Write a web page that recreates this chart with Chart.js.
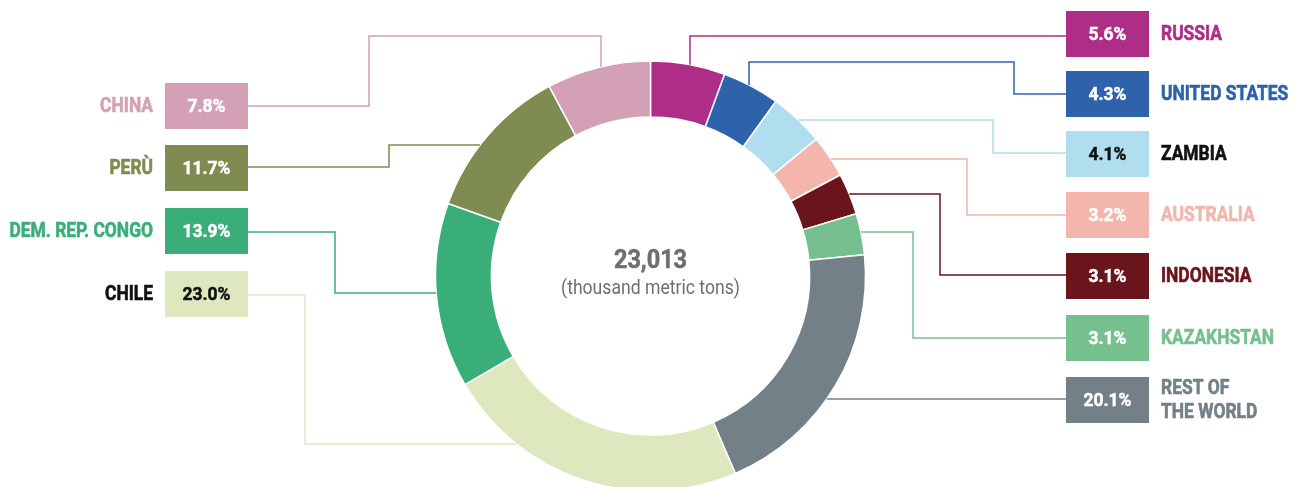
<!DOCTYPE html>
<html lang="en">

<head>
    <meta charset="UTF-8">
    <title>Copper production share</title>
    <script src="https://cdn.jsdelivr.net/npm/chart.js"></script>
    <style>
        html, body { margin: 0; padding: 0; background: #fff; overflow: hidden; }
        .chart-container { position: relative; width: 1301px; height: 487px; }
    </style>
</head>

<body>
    <div class="chart-container">
        <canvas id="grafico"></canvas>
    </div>

<script>
    // dados (clockwise from 12 o'clock)
    const countries = ['RUSSIA', 'UNITED STATES', 'ZAMBIA', 'AUSTRALIA', 'INDONESIA', 'KAZAKHSTAN',
        'REST OF\nTHE WORLD', 'CHILE', 'DEM. REP. CONGO', 'PERÙ', 'CHINA'];
    const shares = [5.6, 4.3, 4.1, 3.2, 3.1, 3.1, 20.1, 23.0, 13.9, 11.7, 7.8];
    const sliceColors = ['#ae2e87', '#2e62ab', '#b0deef', '#f4b5ac', '#6a151c', '#76c08f',
        '#738087', '#dde8be', '#3aae79', '#7e8c52', '#d3a0b5'];
    const labelColors = ['#ae2e87', '#2e62ab', '#111111', '#f4b5ac', '#6a151c', '#76c08f',
        '#738087', '#111111', '#3aae79', '#7e8c52', '#d3a0b5'];
    const boxTextColors = ['#fff', '#fff', '#111', '#fff', '#fff', '#fff',
        '#fff', '#111', '#fff', '#fff', '#fff'];
    const totalLabel = '23,013';
    const unitLabel = '(thousand metric tons)';

    // layout of the label boxes and leader lines
    const BOX_W = 83, BOX_H = 46;
    const layout = [
        { side: 'right', top: 11,  start: { v: 690 }, path: [[690, 36], [1066, 36]] },
        { side: 'right', top: 71,  start: { v: 749 }, path: [[749, 62], [1014, 62], [1014, 94], [1066, 94]] },
        { side: 'right', top: 131, start: { h: 120 }, path: [[993, 120], [993, 153], [1066, 153]] },
        { side: 'right', top: 192, start: { h: 159 }, path: [[967, 159], [967, 215], [1066, 215]] },
        { side: 'right', top: 253, start: { h: 194 }, path: [[940, 194], [940, 275], [1066, 275]] },
        { side: 'right', top: 315, start: { h: 232 }, path: [[913, 232], [913, 338], [1066, 338]] },
        { side: 'right', top: 377, start: { h: 399 }, path: [[1066, 399]] },
        { side: 'left',  top: 271, start: { h: 444 }, path: [[305, 444], [305, 295], [248, 295]] },
        { side: 'left',  top: 208, start: { h: 293 }, path: [[335, 293], [335, 232], [248, 232]] },
        { side: 'left',  top: 145, start: { h: 145 }, path: [[389, 145], [389, 167], [248, 167]] },
        { side: 'left',  top: 83,  start: { v: 601 }, path: [[601, 36], [369, 36], [369, 106], [248, 106]] }
    ];

    // condensed, slightly heavier text
    function condensedText(ctx, text, x, y, align, sx, heavy) {
        ctx.save();
        ctx.translate(x, y);
        ctx.scale(sx, 1);
        ctx.textAlign = align;
        ctx.fillText(text, 0, 0);
        if (heavy) {
            ctx.strokeStyle = ctx.fillStyle;
            ctx.lineWidth = heavy;
            ctx.strokeText(text, 0, 0);
        }
        ctx.restore();
    }

    const labelsPlugin = {
        id: 'labelsPlugin',
        afterDatasetsDraw(chart) {
            const ctx = chart.ctx;
            const arcs = chart.getDatasetMeta(0).data;
            const cx = arcs[0].x, cy = arcs[0].y, R = arcs[0].outerRadius;

            // leader lines
            layout.forEach((l, i) => {
                let sx, sy;
                if (l.start.h !== undefined) {
                    sy = l.start.h;
                    const dx = Math.sqrt(Math.max(R * R - (sy - cy) * (sy - cy), 0));
                    sx = l.side === 'right' ? cx + dx : cx - dx;
                } else {
                    sx = l.start.v;
                    sy = cy - Math.sqrt(Math.max(R * R - (sx - cx) * (sx - cx), 0));
                }
                ctx.save();
                ctx.strokeStyle = sliceColors[i];
                ctx.lineWidth = 1.5;
                ctx.beginPath();
                ctx.moveTo(sx, sy);
                l.path.forEach(p => ctx.lineTo(p[0], p[1]));
                ctx.stroke();
                ctx.restore();
            });

            // boxes and names
            layout.forEach((l, i) => {
                const bx = l.side === 'right' ? 1066 : 165;
                const midY = l.top + BOX_H / 2;
                ctx.save();
                ctx.fillStyle = sliceColors[i];
                ctx.fillRect(bx, l.top, BOX_W, BOX_H);

                ctx.fillStyle = boxTextColors[i];
                ctx.font = 'bold 19px Roboto';
                ctx.textBaseline = 'middle';
                condensedText(ctx, shares[i].toFixed(1) + '%', bx + BOX_W / 2, midY + 1, 'center', 0.92, 0.5);

                ctx.fillStyle = labelColors[i];
                ctx.font = 'bold 20px Roboto';
                const lines = countries[i].split('\n');
                const lh = 24;
                lines.forEach((t, k) => {
                    const y = midY + 1 + (k - (lines.length - 1) / 2) * lh;
                    if (l.side === 'right') {
                        condensedText(ctx, t, 1161, y, 'left', 0.87, 0.6);
                    } else {
                        condensedText(ctx, t, 153, y, 'right', 0.87, 0.6);
                    }
                });
                ctx.restore();
            });

            // center text
            ctx.save();
            ctx.fillStyle = '#6e6e6e';
            ctx.textBaseline = 'middle';
            ctx.font = 'bold 25px Roboto';
            condensedText(ctx, totalLabel, cx, 262, 'center', 0.94, 0.5);
            ctx.font = '20px Roboto';
            condensedText(ctx, unitLabel, cx, 289, 'center', 0.88, 0);
            ctx.restore();
        }
    };

    const ctx = document.getElementById('grafico').getContext('2d');
    new Chart(ctx, {
        type: 'doughnut',
        data: {
            labels: countries,
            datasets: [{
                data: shares,
                backgroundColor: sliceColors,
                borderColor: '#ffffff',
                borderWidth: 1.5,
                clip: false
            }]
        },
        options: {
            responsive: true,
            maintainAspectRatio: false,
            animation: false,
            radius: 215,
            cutout: '74%',
            layout: {
                padding: { top: 65, bottom: 0, left: 0, right: 0 }
            },
            plugins: {
                legend: { display: false },
                tooltip: { enabled: false }
            }
        },
        plugins: [labelsPlugin]
    });
</script>
</body>

</html>
